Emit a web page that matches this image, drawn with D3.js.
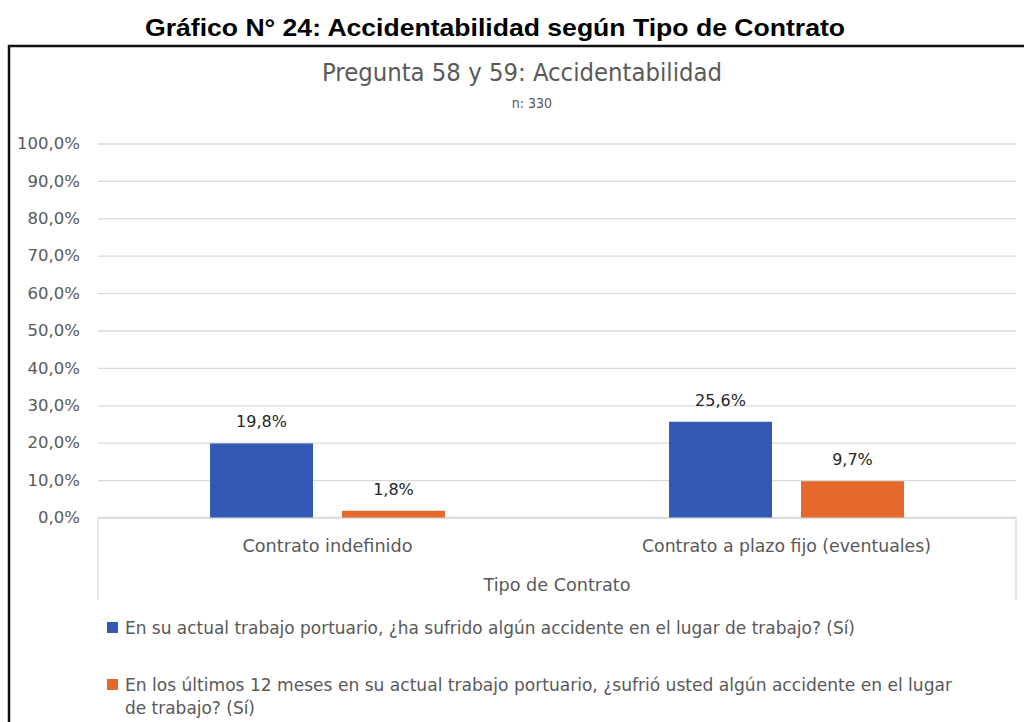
<!DOCTYPE html>
<html>
<head>
<meta charset="utf-8">
<script src="https://cdn.jsdelivr.net/npm/d3@7"></script>
<style>
  body { margin: 0; background: #fff; }
  svg { display: block; }
</style>
</head>
<body>
<svg width="1024" height="722"></svg>
<script>
// valores
const categories = ["Contrato indefinido", "Contrato a plazo fijo (eventuales)"];
const seriesNames = [
  "En su actual trabajo portuario, ¿ha sufrido algún accidente en el lugar de trabajo? (Sí)",
  "En los últimos 12 meses en su actual trabajo portuario, ¿sufrió usted algún accidente en el lugar de trabajo? (Sí)"
];
const seriesA = [19.8, 25.6];
const seriesB = [1.8, 9.7];
const yTicks = [0, 10, 20, 30, 40, 50, 60, 70, 80, 90, 100];
const colors = ["#3459b4", "#e5692a"];

const narrow = '"Liberation Sans Narrow", "DejaVu Sans Condensed", sans-serif';

var svg = d3.select("svg"),
    plotL = 98, plotR = 1016, plotT = 143.5, plotB = 517.5;

// marco exterior
svg.append("rect")
    .attr("x", 9).attr("y", 46)
    .attr("width", 1030).attr("height", 700)
    .attr("fill", "none").attr("stroke", "#111").attr("stroke-width", 2.5);

svg.append("text")
    .attr("x", 495).attr("y", 36)
    .attr("text-anchor", "middle")
    .attr("textLength", 700).attr("lengthAdjust", "spacingAndGlyphs")
    .style("font", "bold 24px 'Liberation Sans', Arial, sans-serif")
    .attr("fill", "#000")
    .text("Gráfico N° 24: Accidentabilidad según Tipo de Contrato");

svg.append("text")
    .attr("x", 522).attr("y", 81)
    .attr("text-anchor", "middle")
    .attr("textLength", 400).attr("lengthAdjust", "spacingAndGlyphs")
    .style("font-family", narrow).style("font-size", "24px")
    .attr("fill", "#595959")
    .text("Pregunta 58 y 59: Accidentabilidad");

svg.append("text")
    .attr("x", 532).attr("y", 108)
    .attr("text-anchor", "middle")
    .style("font-family", narrow).style("font-size", "14px")
    .attr("fill", "#595959")
    .text("n: 330");

var x = d3.scaleBand().domain(categories).range([plotL, plotR]);
var xSub = d3.scaleBand().domain([0, 1]).range([0, x.bandwidth()])
    .paddingInner(0.22).paddingOuter(0.849);
var y = d3.scaleLinear().domain([0, 100]).range([plotB, plotT]);

var fmt = function(v) { return d3.format(".1f")(v).replace(".", ",") + "%"; };

var yAxis = svg.append("g")
    .attr("transform", "translate(" + plotL + ",0)")
    .call(d3.axisLeft(y).tickValues(yTicks).tickFormat(fmt)
      .tickSize(-(plotR - plotL)).tickPadding(18));
yAxis.select(".domain").remove();
yAxis.selectAll(".tick line").attr("stroke", "#d9d9d9").attr("stroke-width", 1.3);
yAxis.selectAll(".tick text")
    .style("font-family", "'DejaVu Sans', Verdana, sans-serif")
    .style("font-size", "16.5px")
    .attr("fill", "#595959");

// caja del eje de categorias
var axisBox = svg.append("g").attr("fill", "none").attr("stroke", "#d9d9d9").attr("stroke-width", 1.3);
axisBox.append("line").attr("x1", plotL).attr("x2", plotR).attr("y1", plotB).attr("y2", plotB);
axisBox.append("line").attr("x1", plotL).attr("x2", plotL).attr("y1", plotB).attr("y2", 600);
axisBox.append("line").attr("x1", plotR).attr("x2", plotR).attr("y1", plotB).attr("y2", 600);

var rows = categories.map(function(c, i) { return { cat: c, vals: [seriesA[i], seriesB[i]] }; });

var groups = svg.selectAll(".grp").data(rows).enter().append("g")
    .attr("transform", function(d) { return "translate(" + x(d.cat) + ",0)"; });

groups.selectAll("rect")
    .data(function(d) { return d.vals; })
  .enter().append("rect")
    .attr("x", function(d, i) { return xSub(i); })
    .attr("width", xSub.bandwidth())
    .attr("y", function(d) { return y(d); })
    .attr("height", function(d) { return plotB - y(d); })
    .attr("fill", function(d, i) { return colors[i]; });

groups.selectAll(".lbl")
    .data(function(d) { return d.vals; })
  .enter().append("text")
    .attr("x", function(d, i) { return xSub(i) + xSub.bandwidth() / 2; })
    .attr("y", function(d) { return y(d) - 16; })
    .attr("text-anchor", "middle")
    .style("font-family", "'DejaVu Sans', Verdana, sans-serif")
    .style("font-size", "16px")
    .attr("fill", "#262626")
    .text(fmt);

var catWidths = [170, 289];
svg.selectAll(".cat").data(categories).enter().append("text")
    .attr("x", function(d) { return x(d) + x.bandwidth() / 2; })
    .attr("y", 552)
    .attr("text-anchor", "middle")
    .attr("textLength", function(d, i) { return catWidths[i]; })
    .attr("lengthAdjust", "spacingAndGlyphs")
    .style("font-family", narrow).style("font-size", "17px")
    .attr("fill", "#595959")
    .text(function(d) { return d; });

svg.append("text")
    .attr("x", (plotL + plotR) / 2).attr("y", 591)
    .attr("text-anchor", "middle")
    .attr("textLength", 147).attr("lengthAdjust", "spacingAndGlyphs")
    .style("font-family", narrow).style("font-size", "17px")
    .attr("fill", "#595959")
    .text("Tipo de Contrato");

// leyenda
var legendLines = [
  { s: 0, y: 634, text: seriesNames[0], w: 730, box: true },
  { s: 1, y: 691, text: "En los últimos 12 meses en su actual trabajo portuario, ¿sufrió usted algún accidente en el lugar", w: 827, box: true },
  { s: 1, y: 714, text: "de trabajo? (Sí)", w: 130, box: false }
];
var leg = svg.selectAll(".leg").data(legendLines).enter().append("g");
leg.filter(function(d) { return d.box; }).append("rect")
    .attr("x", 107).attr("y", function(d) { return d.y - 12; })
    .attr("width", 11).attr("height", 11)
    .attr("fill", function(d) { return colors[d.s]; });
leg.append("text")
    .attr("x", 125).attr("y", function(d) { return d.y; })
    .attr("textLength", function(d) { return d.w; })
    .attr("lengthAdjust", "spacingAndGlyphs")
    .style("font-family", narrow).style("font-size", "17px")
    .attr("fill", "#595959")
    .text(function(d) { return d.text; });
</script>
</body>
</html>
